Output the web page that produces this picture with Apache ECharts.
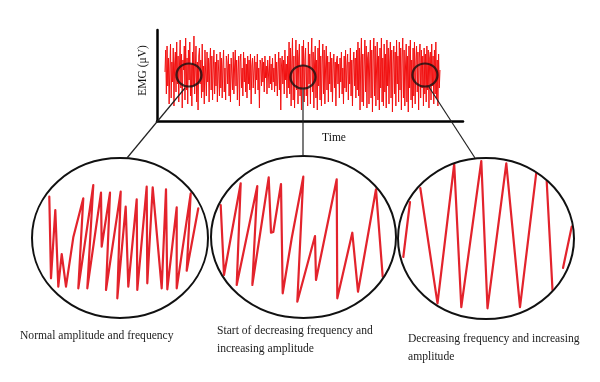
<!DOCTYPE html>
<html>
<head>
<meta charset="utf-8">
<script src="https://cdn.jsdelivr.net/npm/echarts@6/dist/echarts.min.js"></script>
<style>html,body{margin:0;padding:0;background:#fff}#c{width:600px;height:382px}</style>
</head>
<body>
<div id="c"></div>
<script>
// ---- Data ----
// Raw EMG trace (µV, sample index on x)
var emg = [
4, 26, -18, 30, -10, 18, -28, 8, 32, -22, 14, -6, 28, -30, 12, 24, -16, 34, -8, 20,
-26, 10, 36, -12, 22, -32, 16, 6, 30, -24, 38, -14, 18, -28, 26, -4, 34, -20, 12, -30,
24, -10, 40, -18, 8, 30, -26, 14, -34, 20, 28, -8, 16, -22, 32, -16, 10, -28, 26, 2,
-20, 24, -6, 18, -26, 12, 28, -14, 20, -24, 6, 26, -18, 14, -10, 22, -26, 16, 4, -20,
24, -12, 18, -22, 10, 26, -16, 8, -24, 20, 14, -8, 22, -20, 12, -26, 18, 2, -14, 24,
-18, 10, 26, -10, 16, -24, 6, 20, -30, 14, 22, -12, 8, -20, 24, -6, 18, -16, 12, -22,
20, -8, 16, -14, 22, -28, 10, 18, -12, 6, 20, -18, 14, -4, 22, -14, 8, -32, 16, 12,
-10, 18, -6, 14, -16, 20, -2, 10, -18, 16, 4, -12, 20, -8, 12, -14, 18, -6, 8, -16,
22, -10, 14, -20, 6, 24, -14, 18, -34, 10, 20, -8, 16, -18, 26, -4, 12, -22, 20, -12,
34, -18, 28, -30, 14, 38, -24, 20, -32, 8, 36, -14, 26, -28, 18, 32, -20, 10, -34, 30,
-12, 36, -26, 16, 28, -20, 10, -30, 34, -8, 22, -28, 18, 38, -16, 24, -32, 12, 30, -22,
16, -34, 28, -10, 36, -24, 20, -30, 12, 32, -18, 26, -28, 8, 30, -14, 20, -26, 14, -8,
24, -16, 18, -26, 10, 22, -12, 14, -30, 16, 20, -8, 12, -22, 18, -6, 24, -18, 8, -28,
20, -12, 26, -16, 10, 22, -24, 14, -8, 28, -20, 16, -30, 12, 24, -10, 18, -22, 26, -14,
34, -20, 28, -34, 14, 38, -26, 22, -30, 10, 36, -16, 30, -32, 18, 24, -28, 12, 36, -22,
26, -36, 16, 38, -20, 30, -30, 8, 34, -24, 20, -34, 28, -12, 38, -26, 18, -30, 32, -16,
22, -32, 36, -10, 28, -28, 14, 34, -22, 26, -36, 12, 30, -18, 24, -30, 36, -8, 20, -26,
34, -14, 28, -34, 18, 38, -22, 26, -30, 10, 32, -26, 20, -36, 30, -12, 36, -24, 16, -32,
28, -20, 34, -28, 14, 30, -16, 24, -34, 18, 32, -22, 26, -12, 20, -30, 28, -18, 22, -26,
30, -14, 26, -32, 18, 24, -24, 32, -10, 20, -28, 26, -18, 34, -22, 16, -30, 22, -12, 6
];
// Zoom windows marked on the raw trace: [sample index, µV]
var zoomMarks = [[34.8, 1], [200.2, -1], [377.2, 1]];

// Magnified segments (x: time within window, y: µV); null = leaves the view
var seg1X = [17.3, 19, 23.3, 26.3, 29.7, 34, 41.3, 51.3, 46.3, 61.3, 55.3, 69, 69.7, 78, 74, 88.7, 85.3, 93.7, 96.3, 104.7, 105.3, 114.7, 115.3, 120.7, 129.7, 134, 135.3, 144.7, 144.7, 158.7, 154.7, 166.3];
var seg1Y = [41.3, -40.3, 28, -48.7, -16, -48.7, 0.7, 39.7, -50.3, 53, -50.3, 45.3, -8.7, 45.3, -52, 46.3, -60.3, 31.3, -48.7, 38.7, -52, 51.3, -45.3, 50.7, -50.3, 48.7, -51.3, 30.7, -50.3, 44.7, -32.7, 29.7];

var seg2X = [9.7, 13, 29.7, 25.7, 46.3, 41.3, 57.7, 60, 62.3, 70, 71.7, 80.7, 92.3, 86.3, 104, 105, 125.7, 126.3, 141.3, 147, 165, 171.7];
var seg2Y = [32, -38, 53.7, -48, 51, -48, 59.7, 4.3, 5, 53, -56.3, -1.3, 60.3, -64.7, 1, -43, 57.7, -61.3, 4.3, -54.7, 47.7, -39.7];

var seg3X = [5.3, 12, null, 22.3, 39.5, 56.2, 63.3, 83.3, 89.5, 108.3, 122, 138.2, null, 148.7, 154.5, null, 165, 173.7];
var seg3Y = [-18.5, 36.5, null, 50.5, -64.8, 74.5, -68.7, 77.5, -69.8, 75.2, -68.7, 65.2, null, 57.2, -51.5, null, -29.5, 11.8];

var captions = [
  'Normal amplitude and frequency',
  'Start of decreasing frequency and\nincreasing amplitude',
  'Decreasing frequency and increasing\namplitude'
];
var yName = 'EMG (μV)';
var xName = 'Time';

// ---- Build ----
function pairs(xs, ys) {
  return xs.map(function (x, i) { return x === null ? ['-', '-'] : [x, ys[i]]; });
}
var emgData = emg.map(function (v, i) { return [i, v]; });

var RED = '#e3232c';
var SERIF = '"Liberation Serif", "DejaVu Serif", serif';

// magnifier geometry
var mags = [
  {left: 32, top: 158, w: 176, h: 160},
  {left: 211, top: 156, w: 185, h: 162},
  {left: 398, top: 158, w: 176, h: 161}
];

var grids = [{left: 157, top: 30, width: 306, height: 91}];
var xAxes = [{
  gridIndex: 0, type: 'value', min: -11.6, max: 432.4,
  axisLine: {show: true, onZero: false, lineStyle: {color: '#000', width: 2.5}},
  axisTick: {show: false}, axisLabel: {show: false}, splitLine: {show: false},
  name: xName, nameLocation: 'middle', nameGap: 11,
  nameTextStyle: {fontFamily: SERIF, fontSize: 11.5, color: '#111', padding: [0, 0, 0, 48]}
}];
var yAxes = [{
  gridIndex: 0, type: 'value', min: -45, max: 46,
  axisLine: {show: true, onZero: false, lineStyle: {color: '#000', width: 2.5}},
  axisTick: {show: false}, axisLabel: {show: false}, splitLine: {show: false},
  name: yName, nameLocation: 'middle', nameGap: 8, nameRotate: 90,
  nameTextStyle: {fontFamily: SERIF, fontSize: 11.5, color: '#111', padding: [0, 0, 0, 10]}
}];
mags.forEach(function (m, k) {
  grids.push({left: m.left, top: m.top, width: m.w, height: m.h});
  xAxes.push({gridIndex: k + 1, type: 'value', min: 0, max: m.w, show: false});
  yAxes.push({gridIndex: k + 1, type: 'value', min: -m.h / 2, max: m.h / 2, show: false});
});

var segs = [pairs(seg1X, seg1Y), pairs(seg2X, seg2Y), pairs(seg3X, seg3Y)];

var series = [
  {type: 'line', xAxisIndex: 0, yAxisIndex: 0, data: emgData, symbol: 'none',
   lineStyle: {color: '#f21010', width: 1}, animation: false, z: 2},
  {type: 'scatter', xAxisIndex: 0, yAxisIndex: 0, data: zoomMarks, symbol: 'circle',
   symbolSize: [25, 23], itemStyle: {color: 'rgba(0,0,0,0)', borderColor: '#111', borderWidth: 2.2},
   animation: false, z: 5, silent: true}
];
segs.forEach(function (d, k) {
  series.push({type: 'line', xAxisIndex: k + 1, yAxisIndex: k + 1, data: d, symbol: 'none',
    connectNulls: false, lineStyle: {color: RED, width: 2.2, join: 'round', cap: 'round'}, animation: false, z: 3});
});

var graphic = [];
mags.forEach(function (m) {
  graphic.push({type: 'ellipse', z: 10,
    shape: {cx: m.left + m.w / 2, cy: m.top + m.h / 2, rx: m.w / 2, ry: m.h / 2},
    style: {fill: null, stroke: '#111', lineWidth: 2}});
});
// connector lines
graphic.push({type: 'line', z: 10, shape: {x1: 185, y1: 88, x2: 127, y2: 158}, style: {stroke: '#222', lineWidth: 1.2}});
graphic.push({type: 'line', z: 10, shape: {x1: 303, y1: 88, x2: 303, y2: 156}, style: {stroke: '#222', lineWidth: 1.2}});
graphic.push({type: 'line', z: 10, shape: {x1: 429, y1: 87, x2: 475, y2: 158}, style: {stroke: '#222', lineWidth: 1.2}});
// captions
var capPos = [[20, 327], [217, 322], [408, 330]];
captions.forEach(function (t, i) {
  graphic.push({type: 'text', left: capPos[i][0], top: capPos[i][1],
    style: {text: t, font: '11.6px ' + SERIF, fill: '#222', lineHeight: 18}});
});

var chart = echarts.init(document.getElementById('c'), null, {renderer: 'canvas'});
chart.setOption({
  backgroundColor: '#fff',
  animation: false,
  grid: grids, xAxis: xAxes, yAxis: yAxes,
  series: series,
  graphic: graphic
});
</script>
</body>
</html>
